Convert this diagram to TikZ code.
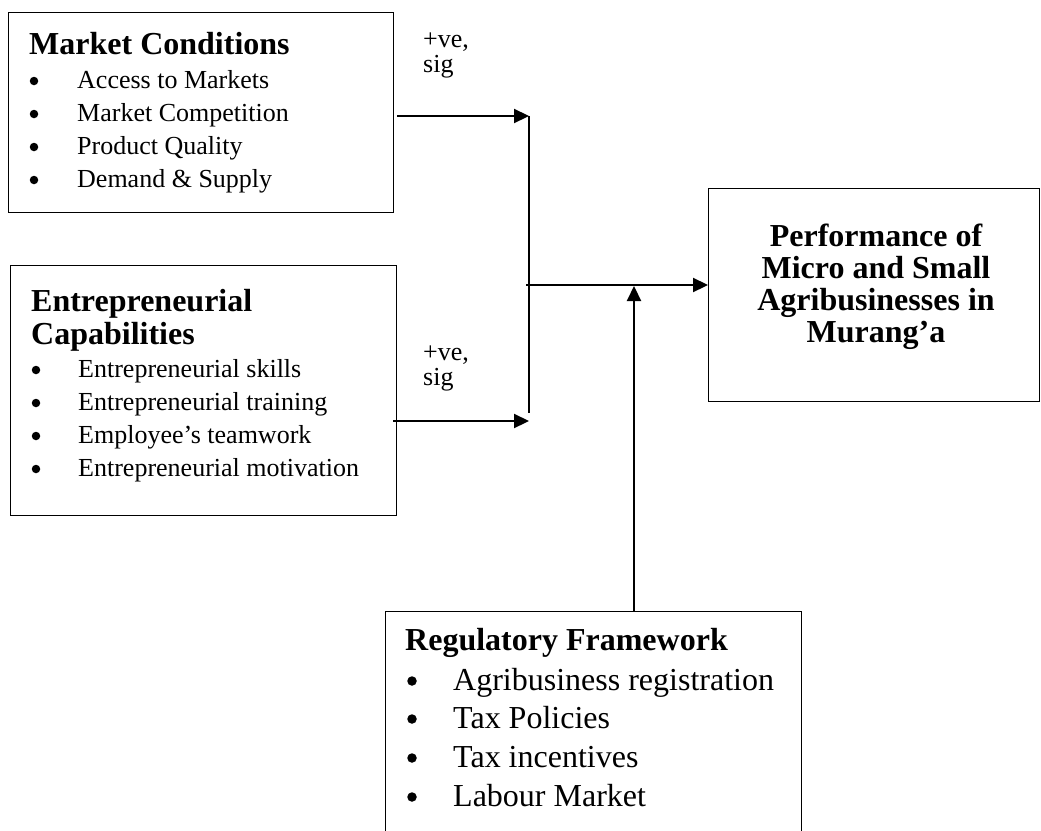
\documentclass[tikz,border=0pt]{standalone}
\usepackage{fontspec}
\setmainfont{Liberation Serif}
\usetikzlibrary{arrows.meta,calc}
\begin{document}
\begin{tikzpicture}[x=1pt,y=-1pt,
  frame/.style={draw, line width=1.3pt, inner sep=0pt, anchor=north west},
  ttl/.style={font=\fontsize{32}{34}\selectfont\bfseries, anchor=base west, inner sep=0pt},
  ctr/.style={font=\fontsize{32}{34}\selectfont\bfseries, anchor=base, inner sep=0pt},
  itm/.style={font=\fontsize{26}{28}\selectfont, anchor=base west, inner sep=0pt},
  bigitm/.style={font=\fontsize{32}{34}\selectfont, anchor=base west, inner sep=0pt},
  dot/.style={circle, fill, inner sep=0pt, minimum size=8.5pt},
  bigdot/.style={circle, fill, inner sep=0pt, minimum size=9.5pt},
  lbl/.style={font=\fontsize{26}{28}\selectfont, anchor=base west, inner sep=0pt},
  link/.style={line width=2.2pt},
  arr/.style={link, -{Triangle[length=15pt,width=14pt]}}]
\clip (0,0) rectangle (1041,830);
\fill[white] (0,0) rectangle (1041,830);

% ---- Market conditions ----
\node[frame, minimum width=385pt, minimum height=200pt] (mc) at (8,12) {};
\node[ttl] (mcT) at (29,54) {Market Conditions};
\node[dot] (mcB1) at (34,81) {};
\node[dot] (mcB2) at (34,114) {};
\node[dot] (mcB3) at (34,147) {};
\node[dot] (mcB4) at (34,180) {};
\node[itm] (mcI1) at (77,88) {Access to Markets};
\node[itm] (mcI2) at (77,121) {Market Competition};
\node[itm] (mcI3) at (77,154) {Product Quality};
\node[itm] (mcI4) at (77,187) {Demand \& Supply};

% ---- Entrepreneurial capabilities ----
\node[frame, minimum width=386pt, minimum height=250pt] (ec) at (10,265) {};
\node[ttl] (ecT1) at (31,311) {Entrepreneurial};
\node[ttl] (ecT2) at (31,344) {Capabilities};
\node[dot] (ecB1) at (36,370) {};
\node[dot] (ecB2) at (36,403) {};
\node[dot] (ecB3) at (36,436) {};
\node[dot] (ecB4) at (36,469) {};
\node[itm] (ecI1) at (78,377) {Entrepreneurial skills};
\node[itm] (ecI2) at (78,410) {Entrepreneurial training};
\node[itm] (ecI3) at (78,443) {Employee’s teamwork};
\node[itm] (ecI4) at (78,476) {Entrepreneurial motivation};

% ---- path labels ----
\node[lbl] (s1a) at (423,47) {+ve,};
\node[lbl] (s1b) at (423,72) {sig};
\node[lbl] (s2a) at (423,360) {+ve,};
\node[lbl] (s2b) at (423,385) {sig};

% ---- Performance (dependent variable) ----
\node[frame, minimum width=331pt, minimum height=213pt] (perf) at (708,188) {};
\node[ctr] (pf1) at (876,246) {Performance of};
\node[ctr] (pf2) at (876,278) {Micro and Small};
\node[ctr] (pf3) at (876,310) {Agribusinesses in};
\node[ctr] (pf4) at (876,342) {Murang’a};

% ---- Regulatory framework ----
\node[frame, minimum width=416pt, minimum height=260pt] (reg) at (385,611) {};
\node[ttl] (rgT) at (405,650) {Regulatory Framework};
\node[bigdot] (rgB1) at (412,681) {};
\node[bigdot] (rgB2) at (412,719) {};
\node[bigdot] (rgB3) at (412,758) {};
\node[bigdot] (rgB4) at (412,797) {};
\node[bigitm] (rgI1) at (453,690) {Agribusiness registration};
\node[bigitm] (rgI2) at (453,728) {Tax Policies};
\node[bigitm] (rgI3) at (453,767) {Tax incentives};
\node[bigitm] (rgI4) at (453,806) {Labour Market};

% ---- connectors ----
\coordinate (mcTip) at (529,116);
\coordinate (barBot) at (529,413);
\coordinate (ecTip) at (529,421);
\coordinate (midL) at (526,285);
\coordinate (hub) at (634,286);

\draw[arr] ($(mc.east |- mcTip)+(3,0)$) -- (mcTip);
\draw[link] (mcTip) -- (barBot);
\draw[arr] ($(ec.east |- ecTip)+(-4,0)$) -- (ecTip);
\draw[arr] (midL) -- (perf.west |- midL);
\draw[arr] (reg.north -| hub) -- (hub);
\end{tikzpicture}
\end{document}
